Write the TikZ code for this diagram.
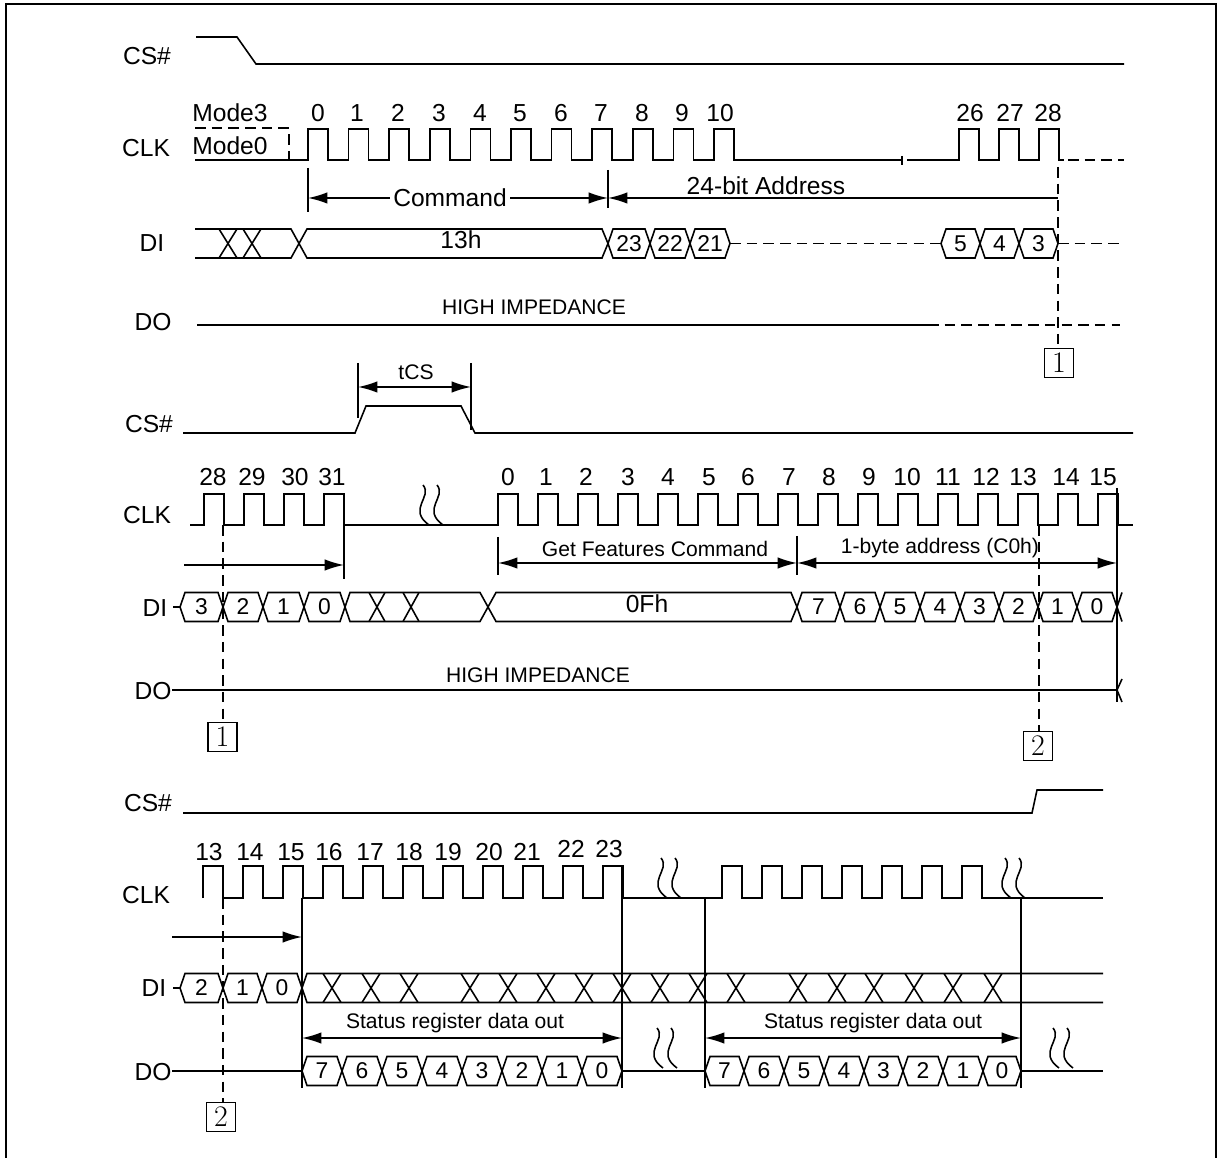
\documentclass[tikz,border=0pt]{standalone}
\usepackage{fontspec}
\newfontfamily\arialfont{Liberation Sans}
\usetikzlibrary{arrows.meta}

\begin{document}
\begin{tikzpicture}[x=0.02cm,y=-0.02cm,line width=0.9pt,
    lbl/.style={font=\arialfont\fontsize{14}{16}\selectfont},
    smalltext/.style={font=\arialfont\fontsize{12}{14}\selectfont},
    bittext/.style={font=\arialfont\fontsize{13}{15}\selectfont},
    dsh/.style={dash pattern=on 6pt off 3.5pt},
    flagbox/.style={draw,line width=0.6pt,fill=white,minimum width=0.58cm,minimum height=0.58cm,inner sep=0pt,font=\fontsize{17}{19}\selectfont},
    dimarrow/.style={-{Latex[length=11pt,width=6.5pt]}},
    dimboth/.style={{Latex[length=11pt,width=6.5pt]}-{Latex[length=11pt,width=6.5pt]}}]
    \useasboundingbox (0,0) rectangle (1224,1158);

    % Frame
    \draw (6,1158) -- (6,4) -- (1216,4) -- (1216,1158);

    % ---------------- first part ----------------
    % Signal names
    \node[lbl] (cs1) at (147,56) {CS\#};
    \node[lbl] (clk1) at (146,148) {CLK};
    \node[lbl] (di1) at (152,243) {DI};
    \node[lbl] (do1) at (153,322) {DO};

    % Chip select goes low
    \draw (196,37) -- (237,37) -- (256,64) -- (1124,64);

    % Clock with mode 3 / mode 0 start
    \node[lbl] (mode3) at (230,113) {Mode3};
    \node[lbl] (mode0) at (230,146) {Mode0};
    \draw[dsh] (195,128) -- (289,128) -- (289,160);
    \draw (195,160) \foreach \k in {0,...,10} { -- (308+40.6*\k,160) -- ++(0,-31) -- ++(20,0) -- ++(0,31) } -- (902,160);
    \draw (902,156) -- (902,165);
    \draw (907,160) \foreach \k in {0,1,2} { -- (959+40*\k,160) -- ++(0,-31) -- ++(20,0) -- ++(0,31) } -- (1064,160);
    \draw[dsh] (1068,160) -- (1124,160);
    \foreach \x/\n in {318/0,357/1,398/2,439/3,480/4,520/5,561/6,601/7,642/8,682/9,720/10,970/26,1010/27,1048/28}
        \node[lbl] at (\x,113) {\n};

    % Command and address spans
    \draw (308,168) -- (308,212);
    \draw (608,170) -- (608,208);
    \draw[dimboth] (308,198) -- (608,198);
    \node[lbl,fill=white,inner sep=2pt] (cmd) at (450,198) {Command};
    \draw[{Latex[length=11pt,width=6.5pt]}-] (608,198) -- (1058,198);
    \node[lbl] (addr) at (766,186) {24-bit Address};

    % DI: don't care, 13h, address bits
    \draw (195,229) -- (291,229) -- (299,243.5) -- (291,258) -- (195,258);
    \foreach \x in {228,252} \draw (\x-9,229) -- (\x+9,258) (\x-9,258) -- (\x+9,229);
    \draw (299,243.5) -- (307,229) -- (602,229) -- (608,243.5) -- (602,258) -- (307,258) -- cycle;
    \node[lbl] (op1) at (461,240) {13h};
    \foreach \a/\b/\t in {608/650/23,650/690/22,690/730/21,941/980/5,980/1019/4,1019/1058/3} {
        \draw (\a,243.5) -- (\a+5,229) -- (\b-5,229) -- (\b,243.5) -- (\b-5,258) -- (\a+5,258) -- cycle;
        \node[bittext] at ({(\a+\b)/2},243.5) {\t};
    }
    \draw[dsh] (730,243.5) -- (941,243.5);
    \draw[dsh] (1058,243.5) -- (1120,243.5);

    % DO
    \draw (197,325) -- (928,325);
    \draw[dsh] (928,325) -- (1120,325);
    \node[smalltext] (hz1) at (534,307) {HIGH IMPEDANCE};

    % Marker 1
    \draw[dsh] (1058,167) -- (1058,349);
    \node[flagbox] (m1a) at (1059,363) {1};

    % ---------------- second part ----------------
    \node[lbl] (cs2) at (149,424) {CS\#};
    \node[lbl] (clk2) at (147,515) {CLK};
    \node[lbl] (di2) at (155,608) {DI};
    \node[lbl] (do2) at (153,691) {DO};

    % CS# high pulse with tCS
    \draw (183,433) -- (355,433) -- (366,406) -- (461,406) -- (475,433) -- (1133,433);
    \draw (358,363) -- (358,418);
    \draw (471,363) -- (471,430);
    \draw[dimboth] (358,387) -- (471,387);
    \node[smalltext] (tcs) at (416,372) {tCS};

    % Clock
    \draw (190,525) \foreach \k in {0,...,3} { -- (204+40*\k,525) -- ++(0,-31) -- ++(20,0) -- ++(0,31) }
        \foreach \k in {0,...,15} { -- (498+40*\k,525) -- ++(0,-31) -- ++(20,0) -- ++(0,31) } -- (1133,525);
    \foreach \x in {423,437} \draw (\x,485) .. controls (\x+10,497) and (\x-16,509) .. (\x+6,525);
    \foreach \x/\n in {213/28,252/29,295/30,332/31,508/0,546/1,586/2,628/3,668/4,709/5,748/6,789/7,829/8,869/9,907/10,948/11,986/12,1023/13,1066/14,1103/15}
        \node[lbl] at (\x,477) {\n};

    % Spans
    \draw[dimarrow] (184,565) -- (344,565);
    \draw (344,525) -- (344,579);
    \draw (498,537) -- (498,575);
    \draw (797,536) -- (797,575);
    \draw[dimboth] (498,563) -- (797,563);
    \node[smalltext] (gf) at (655,549) {Get Features Command};
    \draw[dimboth] (797,563) -- (1117,563);
    \node[smalltext] (c0h) at (940,548) {1-byte address (C0h)};
    \draw (1117,488) -- (1117,702);

    % DI: address bits, don't care, 0Fh, address byte
    \draw (173,607) -- (180,607);
    \foreach \a/\b/\t in {180/223/3,223/263/2,263/304/1,304/345/0,797/840/7,840/880/6,880/920/5,920/960/4,960/999/3,999/1038/2,1038/1077/1,1077/1117/0} {
        \draw (\a,607) -- (\a+5,592.5) -- (\b-5,592.5) -- (\b,607) -- (\b-5,621.5) -- (\a+5,621.5) -- cycle;
        \node[bittext] at ({(\a+\b)/2},607) {\t};
    }
    \draw (345,607) -- (350,592.5) -- (480,592.5) -- (488,607) -- (480,621.5) -- (350,621.5) -- cycle;
    \foreach \x in {377,411} \draw (\x-8,592.5) -- (\x+8,621.5) (\x-8,621.5) -- (\x+8,592.5);
    \draw (488,607) -- (496,592.5) -- (791,592.5) -- (797,607) -- (791,621.5) -- (496,621.5) -- cycle;
    \node[lbl] (op2) at (647,604) {0Fh};
    \draw (1122,592.5) -- (1117,607) -- (1122,621.5);

    % DO
    \draw (172,690) -- (1117,690);
    \draw (1122,679) -- (1117,690) -- (1122,702);
    \node[smalltext] (hz2) at (538,675) {HIGH IMPEDANCE};

    % Markers 1 and 2
    \draw[dsh] (223,525) -- (223,723);
    \node[flagbox] (m1b) at (222.5,737) {1};
    \draw[dsh] (1039,525) -- (1039,732);
    \node[flagbox] (m2a) at (1038,746) {2};

    % ---------------- third part ----------------
    \node[lbl] (cs3) at (148,803) {CS\#};
    \node[lbl] (clk3) at (146,895) {CLK};
    \node[lbl] (di3) at (154,988) {DI};
    \node[lbl] (do3) at (153,1072) {DO};

    % CS# goes high at the end
    \draw (183,813) -- (1032,813) -- (1037,790) -- (1103,790);

    % Clock
    \draw (203,898) \foreach \k in {0,...,10} { -- (203+40*\k,898) -- ++(0,-32) -- ++(20,0) -- ++(0,32) }
        \foreach \k in {0,...,6} { -- (722+40*\k,898) -- ++(0,-32) -- ++(20,0) -- ++(0,32) } -- (1103,898);
    \foreach \x in {661,675,1005,1019} \draw (\x,858) .. controls (\x+10,870) and (\x-16,882) .. (\x+6,898);
    \foreach \x/\n in {209/13,250/14,291/15,329/16,370/17,409/18,448/19,489/20,527/21}
        \node[lbl] at (\x,852) {\n};
    \foreach \x/\n in {571/22,609/23}
        \node[lbl] at (\x,849) {\n};

    % Spans
    \draw[dimarrow] (172,937) -- (302,937);
    \draw (302,898) -- (302,1088);
    \draw (622,866) -- (622,1088);
    \draw (705,898) -- (705,1088);
    \draw (1021,898) -- (1021,1088);
    \draw[dimboth] (302,1038) -- (622,1038);
    \node[smalltext] (st1) at (455,1023) {Status register data out};
    \draw[dimboth] (705,1038) -- (1021,1038);
    \node[smalltext] (st2) at (873,1023) {Status register data out};

    % DI
    \draw (173,988) -- (180,988);
    \foreach \a/\b/\t in {180/223/2,223/262/1,262/302/0} {
        \draw (\a,988) -- (\a+5,973.5) -- (\b-5,973.5) -- (\b,988) -- (\b-5,1002.5) -- (\a+5,1002.5) -- cycle;
        \node[bittext] at ({(\a+\b)/2},988) {\t};
    }
    \draw (1103,973.5) -- (307,973.5) -- (302,988) -- (307,1002.5) -- (1103,1002.5);
    \foreach \x in {332,371,409,470,508,546,584,622,660,698,736,798,837,874,914,953,993}
        \draw (\x-9,973.5) -- (\x+9,1002.5) (\x-9,1002.5) -- (\x+9,973.5);

    % DO: status register out twice
    \draw (172,1071) -- (302,1071);
    \foreach \a/\b/\t in {302/342/7,342/382/6,382/422/5,422/462/4,462/502/3,502/542/2,542/582/1,582/622/0,
                          705/744/7,744/784/6,784/824/5,824/864/4,864/903/3,903/943/2,943/983/1,983/1021/0} {
        \draw (\a,1071) -- (\a+5,1056.5) -- (\b-5,1056.5) -- (\b,1071) -- (\b-5,1085.5) -- (\a+5,1085.5) -- cycle;
        \node[bittext] at ({(\a+\b)/2},1071) {\t};
    }
    \draw (622,1071) -- (705,1071);
    \draw (1021,1071) -- (1103,1071);
    \foreach \x in {657,671,1053,1067} \draw (\x,1028) .. controls (\x+10,1040) and (\x-16,1052) .. (\x+6,1068);

    % Marker 2
    \draw[dsh] (223,898) -- (223,1102);
    \node[flagbox] (m2b) at (221,1117) {2};
\end{tikzpicture}
\end{document}
